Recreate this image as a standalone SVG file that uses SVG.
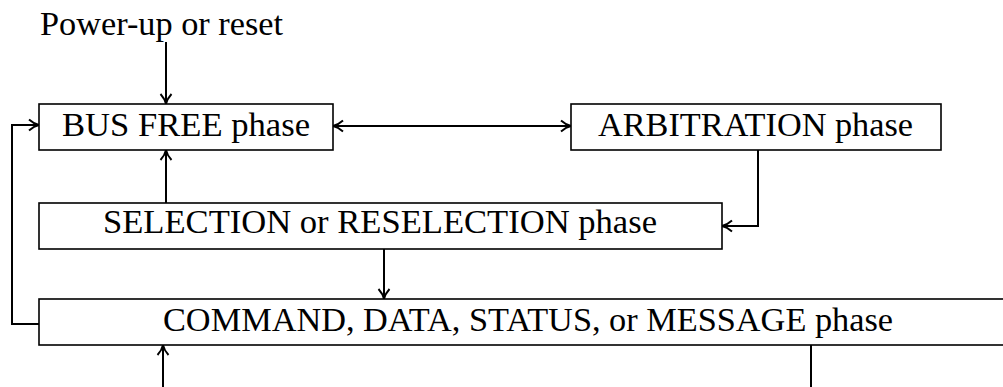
<svg xmlns="http://www.w3.org/2000/svg" width="1003" height="387" viewBox="0 0 1003 387">
<style>
.box{fill:#fff;stroke:#000;stroke-width:1.6}
.t{font-family:"Liberation Serif","Times New Roman",serif;font-size:33px;fill:#000}
.c{fill:none;stroke:#000;stroke-width:2}
</style>
<defs>
<marker id="ah" markerUnits="userSpaceOnUse" markerWidth="14" markerHeight="14" refX="11" refY="6" orient="auto-start-reverse" viewBox="0 0 14 12">
<path d="M1,0.5 Q6,5 11,6 Q6,7 1,11.5" fill="none" stroke="#000" stroke-width="1.9"/>
</marker>
</defs>
<rect width="1003" height="387" fill="#fff"/>
<text class="t" x="40" y="35" textLength="243" lengthAdjust="spacingAndGlyphs">Power-up or reset</text>
<g id="connectors">
<path class="c" d="M166,42 V104" marker-end="url(#ah)"/>
<path class="c" d="M333,126 H571" marker-start="url(#ah)" marker-end="url(#ah)"/>
<path class="c" d="M758,150 V226 H722" marker-end="url(#ah)"/>
<path class="c" d="M166,203 V150" marker-end="url(#ah)"/>
<path class="c" d="M384,249 V299" marker-end="url(#ah)"/>
<path class="c" d="M39,324 H12 V125 H39" marker-end="url(#ah)"/>
<path class="c" d="M163,387 V345" marker-end="url(#ah)"/>
<path class="c" d="M811,345 V387"/>
</g>
<g id="busfree">
<rect class="box" x="39" y="104" width="294" height="46"/>
<text class="t" x="62" y="136" textLength="248" lengthAdjust="spacingAndGlyphs">BUS FREE phase</text>
</g>
<g id="arbitration">
<rect class="box" x="571" y="104" width="370" height="46"/>
<text class="t" x="598" y="136" textLength="315" lengthAdjust="spacingAndGlyphs">ARBITRATION phase</text>
</g>
<g id="selection">
<rect class="box" x="39" y="203" width="683" height="46"/>
<text class="t" x="103" y="233" textLength="554" lengthAdjust="spacingAndGlyphs">SELECTION or RESELECTION phase</text>
</g>
<g id="command">
<rect class="box" x="39" y="299" width="980" height="46"/>
<text class="t" x="163" y="331" textLength="730" lengthAdjust="spacingAndGlyphs">COMMAND, DATA, STATUS, or MESSAGE phase</text>
</g>
</svg>
